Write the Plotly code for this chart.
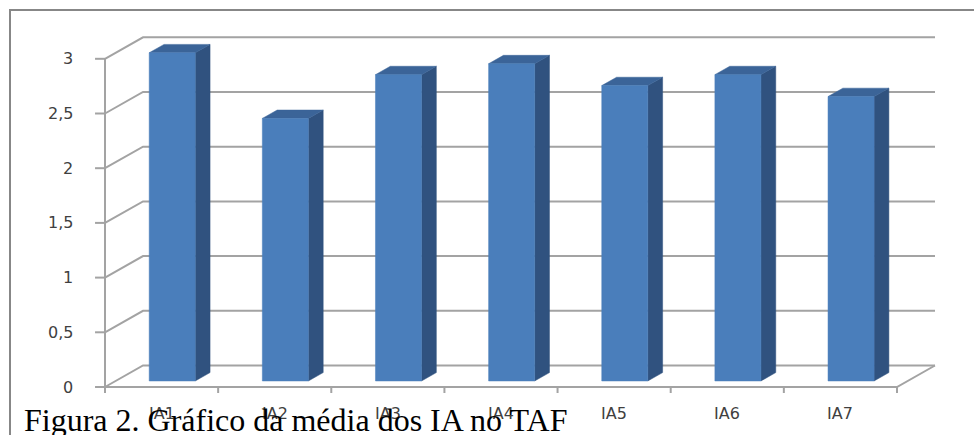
import plotly.graph_objects as go

# ---- data ----
categories = ["IA1", "IA2", "IA3", "IA4", "IA5", "IA6", "IA7"]
values = [3.0, 2.4, 2.8, 2.9, 2.7, 2.8, 2.6]
y_ticks = [0, 0.5, 1, 1.5, 2, 2.5, 3]
y_tick_labels = ["0", "0,5", "1", "1,5", "2", "2,5", "3"]
caption = "Figura 2. Gráfico da média dos IA no TAF"

# ---- oblique 3D projection parameters (in axis units) ----
DX, DY = 0.336, 0.1965      # full depth offset
F0, F1 = 0.28, 0.67         # bar depth start/end
BAR_W = 0.407
GRID_C = "#a3a3a3"
FRONT_C, SIDE_C, TOP_C = "#4a7ebb", "#30527f", "#3b6498"

def p(x, y, f):
    return x + f * DX, y + f * DY

n = len(categories)
fig = go.Figure()

# back-wall gridlines with diagonal on left wall
for v in y_ticks:
    pts = [p(0, v, 0), p(0, v, 1), p(n, v, 1)]
    fig.add_trace(go.Scatter(x=[a for a, b in pts], y=[b for a, b in pts], mode="lines",
                             line=dict(color=GRID_C, width=2), hoverinfo="skip", showlegend=False))
# floor front edge and right edge
pts = [p(0, 0, 0), p(n, 0, 0), p(n, 0, 1)]
fig.add_trace(go.Scatter(x=[a for a, b in pts], y=[b for a, b in pts], mode="lines",
                         line=dict(color=GRID_C, width=2), hoverinfo="skip", showlegend=False))
# front vertical axis
fig.add_trace(go.Scatter(x=[0, 0], y=[0, max(y_ticks)], mode="lines",
                         line=dict(color=GRID_C, width=2), hoverinfo="skip", showlegend=False))
# y tick marks
for v in y_ticks:
    fig.add_trace(go.Scatter(x=[-0.088, 0], y=[v, v], mode="lines",
                             line=dict(color=GRID_C, width=2), hoverinfo="skip", showlegend=False))
# x tick marks
for i in range(n + 1):
    fig.add_trace(go.Scatter(x=[i, i], y=[0, -0.055], mode="lines",
                             line=dict(color=GRID_C, width=2), hoverinfo="skip", showlegend=False))

# bars
def poly(pts, color):
    xs = [a for a, b in pts] + [pts[0][0]]
    ys = [b for a, b in pts] + [pts[0][1]]
    fig.add_trace(go.Scatter(x=xs, y=ys, mode="lines", fill="toself", fillcolor=color,
                             line=dict(color=color, width=0.5), hoverinfo="skip", showlegend=False))

for i, v in enumerate(values):
    xl = i + 0.5 - BAR_W / 2
    xr = i + 0.5 + BAR_W / 2
    poly([p(xr, 0, F0), p(xr, 0, F1), p(xr, v, F1), p(xr, v, F0)], SIDE_C)
    poly([p(xl, v, F0), p(xr, v, F0), p(xr, v, F1), p(xl, v, F1)], TOP_C)
    poly([p(xl, 0, F0), p(xr, 0, F0), p(xr, v, F0), p(xl, v, F0)], FRONT_C)

annotations = []
for v, lab in zip(y_ticks, y_tick_labels):
    annotations.append(dict(x=-0.265, y=v, text=lab, showarrow=False, xanchor="right",
                            yanchor="middle", font=dict(family="DejaVu Sans", size=16, color="#404040")))
for i, c in enumerate(categories):
    annotations.append(dict(x=i + 0.5, y=-0.238, text=c, showarrow=False, xanchor="center",
                            yanchor="middle", font=dict(family="DejaVu Sans", size=16, color="#404040")))
annotations.append(dict(x=22 / 974, y=-0.012, xref="paper", yref="paper", text=caption,
                        showarrow=False, xanchor="left", yanchor="bottom",
                        font=dict(family="Liberation Serif", size=32, color="#000000")))

fig.update_layout(
    width=974, height=435, autosize=False,
    margin=dict(l=0, r=0, t=0, b=0),
    paper_bgcolor="white", plot_bgcolor="white",
    xaxis=dict(range=[-105 / 113.14, (974 - 105) / 113.14], visible=False, fixedrange=True),
    yaxis=dict(range=[-48 / 109.4, 387 / 109.4], visible=False, fixedrange=True),
    shapes=[dict(type="rect", xref="paper", yref="paper", x0=10 / 974, x1=1.05,
                 y0=-0.05, y1=1 - 10 / 435, line=dict(color="#878787", width=2))],
    annotations=annotations,
)

fig.write_html("out.html")
